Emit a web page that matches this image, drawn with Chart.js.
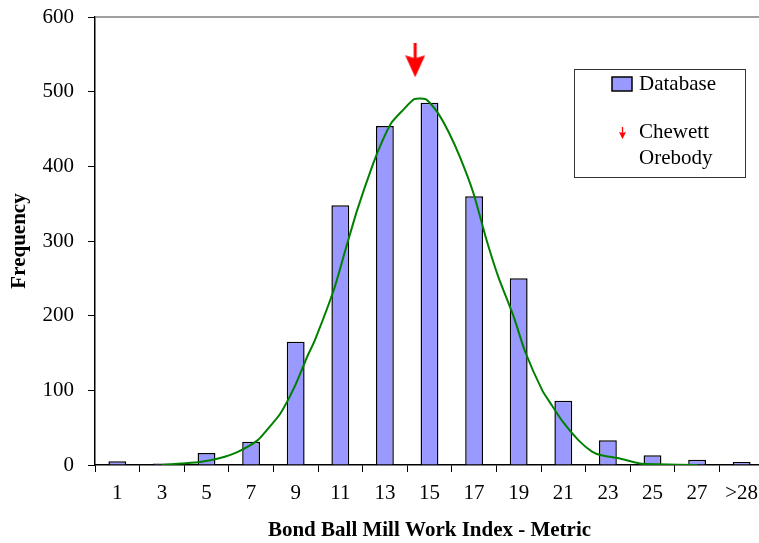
<!DOCTYPE html>
<html>
<head>
<meta charset="utf-8">
<script src="https://cdn.jsdelivr.net/npm/chart.js@4/dist/chart.umd.min.js"></script>
<style>
html,body{margin:0;padding:0;background:#fff;overflow:hidden;width:759px;height:543px;}
canvas{display:block;}
</style>
</head>
<body>
<canvas id="c" width="775" height="543"></canvas>
<script>
// ---- data ----
const categories = ['1','3','5','7','9','11','13','15','17','19','21','23','25','27','>28'];
const frequency = [5, 2, 16, 31, 165, 348, 454, 485, 360, 250, 86, 33, 13, 7, 4];
// fitted curve (work index, frequency)
const curveX = [1, 2, 3, 4, 5, 6, 6.5, 7.2, 8, 8.6, 9, 10, 10.6, 11.2, 12, 12.5, 13, 13.6, 14.2, 14.8, 15.4, 16, 16.6, 17.3, 18, 18.6, 19.4, 20, 20.9, 21.4, 22, 22.8, 23.5, 24, 24.9, 26, 27, 29];
const curveY = [0, 2, 4, 9, 18, 33, 47, 69, 108, 145, 167, 235, 288, 340, 400, 432, 458, 475, 490, 490, 473, 446, 412, 364, 300, 252, 199, 152, 100, 80, 57, 33, 18, 13, 9, 2, 1, 0];
const orebodyWI = [14.25];
const orebodyMarker = [542];
const yTicks = [0, 100, 200, 300, 400, 500, 600];

const FONT = "'Liberation Serif','Times New Roman',serif";
const FS = 21;

function makeArrow(w, h, shaftW, headH, notch) {
  const c = document.createElement('canvas');
  c.width = w; c.height = h;
  const g = c.getContext('2d');
  g.fillStyle = '#ff0000';
  g.fillRect(w/2 - shaftW/2, 0, shaftW, h - headH + notch + 1);
  g.beginPath();
  g.moveTo(0, h - headH);
  g.lineTo(w/2, h - headH + notch);
  g.lineTo(w, h - headH);
  g.lineTo(w/2, h);
  g.closePath();
  g.fill();
  return c;
}
const bigArrow = makeArrow(20, 34, 3, 22, 3);
const smallArrow = makeArrow(7, 12, 1.3, 7, 1);

const legendPlugin = {
  id: 'boxLegend',
  afterDraw(chart) {
    const ctx = chart.ctx;
    ctx.save();
    // top frame line
    const a = chart.chartArea;
    ctx.strokeStyle = '#808080';
    ctx.lineWidth = 1.5;
    ctx.beginPath();
    ctx.moveTo(a.left, a.top);
    ctx.lineTo(a.right, a.top);
    ctx.stroke();
    // legend box
    ctx.strokeStyle = '#333';
    ctx.lineWidth = 1;
    ctx.fillStyle = '#fff';
    ctx.fillRect(574.5, 69.5, 171, 108);
    ctx.strokeRect(574.5, 69.5, 171, 108);
    // Database swatch
    ctx.fillStyle = '#9999ff';
    ctx.fillRect(612, 77, 20, 14);
    ctx.strokeStyle = '#000';
    ctx.lineWidth = 1.5;
    ctx.strokeRect(612, 77, 20, 14);
    ctx.fillStyle = '#000';
    ctx.font = FS + 'px ' + FONT;
    ctx.textBaseline = 'middle';
    ctx.textAlign = 'left';
    const ds = chart.data.datasets;
    ctx.fillText(ds[0].label, 639, 84);
    ctx.drawImage(smallArrow, 619, 127);
    const words = ds[2].label.split(' ');
    ctx.fillText(words[0], 639, 132);
    ctx.fillText(words.slice(1).join(' '), 639, 158);
    ctx.restore();
  }
};

new Chart(document.getElementById('c'), {
  type: 'bar',
  data: {
    labels: categories,
    datasets: [
      {
        type: 'bar',
        label: 'Database',
        data: frequency,
        backgroundColor: '#9999ff',
        borderColor: '#000000',
        borderWidth: 1.5,
        grouped: false,
        categoryPercentage: 1,
        barPercentage: 0.4,
        xAxisID: 'x',
        order: 2
      },
      {
        type: 'line',
        label: 'Fit',
        data: curveX.map((x, i) => ({x: x, y: curveY[i]})),
        xAxisID: 'xl',
        borderColor: '#008000',
        borderWidth: 2,
        pointRadius: 0,
        tension: 0.2,
        fill: false,
        order: 1
      },
      {
        type: 'scatter',
        label: 'Chewett Orebody',
        data: orebodyWI.map((x, i) => ({x: x, y: orebodyMarker[i]})),
        xAxisID: 'xl',
        pointStyle: bigArrow,
        pointRadius: 10,
        order: 0
      }
    ]
  },
  options: {
    responsive: false,
    animation: false,
    devicePixelRatio: 1,
    layout: {padding: {left: 0, top: 17, right: 7, bottom: 0}},
    plugins: {legend: {display: false}, tooltip: {enabled: false}},
    scales: {
      x: {
        type: 'category',
        offset: true,
        grid: {offset: true, drawOnChartArea: false, drawTicks: true, tickLength: 7, color: '#000', lineWidth: 1},
        border: {color: '#000', width: 1.5},
        ticks: {color: '#000', font: {family: FONT, size: FS}, padding: 9, maxRotation: 0, autoSkip: false},
        title: {display: true, text: 'Bond Ball Mill Work Index - Metric', color: '#000', font: {family: FONT, size: FS, weight: 'bold', lineHeight: 1.2}, padding: {top: 0, bottom: 0}},
        afterFit(s) { s.height = 78; s.paddingLeft = 0; s.paddingRight = 0; }
      },
      xl: {
        type: 'linear',
        display: false,
        min: 0,
        max: 30
      },
      y: {
        min: 0,
        max: 600,
        afterBuildTicks(s) { s.ticks = yTicks.map(v => ({value: v})); },
        grid: {drawOnChartArea: false, drawTicks: true, tickLength: 7, color: '#000', lineWidth: 1},
        border: {color: '#000', width: 1.5},
        ticks: {color: '#000', font: {family: FONT, size: FS}, padding: 14},
        title: {display: true, text: 'Frequency', color: '#000', font: {family: FONT, size: FS, weight: 'bold', lineHeight: 1.2}, padding: {top: 7, bottom: 0}},
        afterFit(s) { s.width = 95; s.paddingTop = 0; s.paddingBottom = 0; }
      }
    }
  },
  plugins: [legendPlugin]
});
</script>
</body>
</html>
